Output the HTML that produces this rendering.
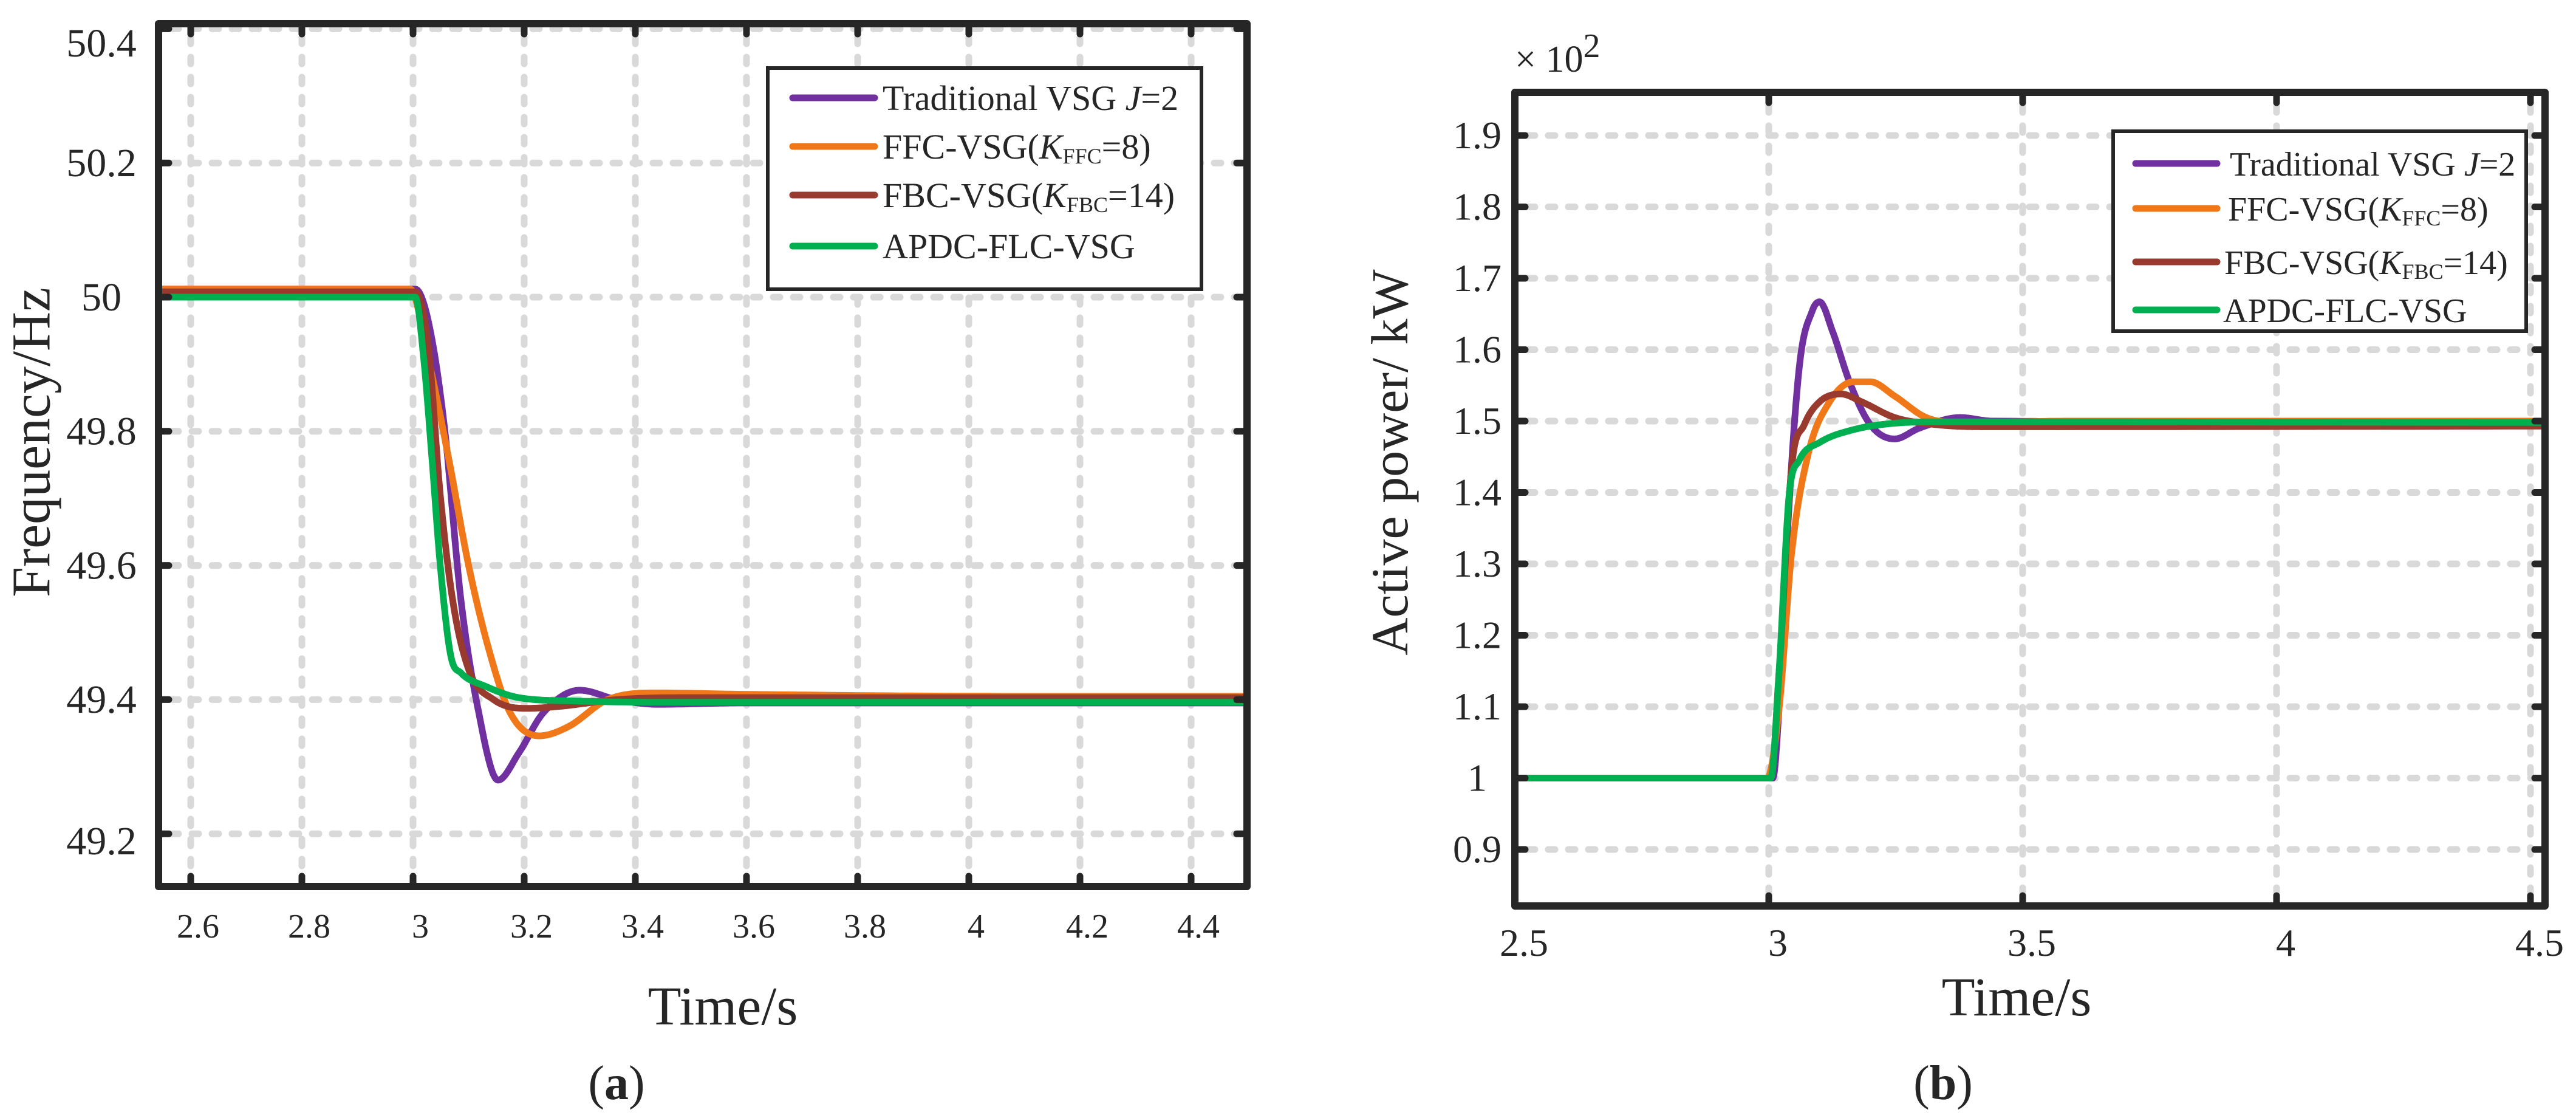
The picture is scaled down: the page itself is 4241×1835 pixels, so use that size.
<!DOCTYPE html>
<html><head><meta charset="utf-8"><style>
html,body{margin:0;padding:0;background:#fff}
svg{display:block}
text{font-family:"Liberation Serif","Times New Roman",serif;fill:#262626}
</style></head><body>
<svg id="fig" xmlns="http://www.w3.org/2000/svg" width="4241" height="1835" viewBox="0 0 4241 1835">
<defs>
<clipPath id="clipA"><rect x="261" y="39" width="1792" height="1420"/></clipPath>
<clipPath id="clipB"><rect x="2494" y="152" width="1696" height="1339"/></clipPath>
</defs>
<g id="panelA"></g>
<g id="panelB"></g>
</svg>
<script>
// ---------- Panel (a) data: Frequency (Hz) ----------
const aXTicks = [2.6, 2.8, 3, 3.2, 3.4, 3.6, 3.8, 4, 4.2, 4.4];
const aXTickLabels = ["2.6","2.8","3","3.2","3.4","3.6","3.8","4","4.2","4.4"];
const aYTicks = [49.2, 49.4, 49.6, 49.8, 50, 50.2, 50.4];
const aYTickLabels = ["49.2","49.4","49.6","49.8","50","50.2","50.4"];
const aPurpleT = [2.54, 3.0, 3.004, 3.027, 3.056, 3.086, 3.116, 3.153, 3.19, 3.234, 3.30, 3.367, 3.44, 3.59, 4.51];
const aPurpleV = [50.012, 50.012, 50.012, 49.966, 49.81, 49.55, 49.39, 49.28, 49.32, 49.38, 49.414, 49.40, 49.393, 49.395, 49.395];
const aOrangeT = [2.54, 2.995, 3.027, 3.064, 3.10, 3.138, 3.175, 3.227, 3.28, 3.35, 3.44, 3.59, 4.08, 4.51];
const aOrangeV = [50.012, 50.012, 49.91, 49.76, 49.60, 49.47, 49.38, 49.346, 49.36, 49.40, 49.41, 49.408, 49.405, 49.405];
const aBrownT = [2.54, 3.004, 3.027, 3.049, 3.071, 3.10, 3.145, 3.205, 3.264, 3.367, 3.5, 4.51];
const aBrownV = [50.008, 50.008, 49.93, 49.705, 49.55, 49.445, 49.40, 49.387, 49.39, 49.40, 49.403, 49.403];
const aGreenT = [2.54, 3.004, 3.019, 3.034, 3.049, 3.068, 3.086, 3.13, 3.19, 3.29, 3.5, 4.51];
const aGreenV = [50.0, 50.0, 49.91, 49.76, 49.60, 49.465, 49.44, 49.42, 49.403, 49.398, 49.396, 49.396];

// ---------- Panel (b) data: Active power (x100 kW) ----------
const bXTicks = [2.5, 3, 3.5, 4, 4.5];
const bXTickLabels = ["2.5","3","3.5","4","4.5"];
const bYTicks = [0.9, 1.0, 1.1, 1.2, 1.3, 1.4, 1.5, 1.6, 1.7, 1.8, 1.9];
const bYTickLabels = ["0.9","1","1.1","1.2","1.3","1.4","1.5","1.6","1.7","1.8","1.9"];
const bPurpleT = [2.49, 3.008, 3.02, 3.037, 3.06, 3.086, 3.10, 3.126, 3.159, 3.20, 3.248, 3.296, 3.377, 3.44, 4.55];
const bPurpleV = [1.0, 1.0, 1.095, 1.345, 1.575, 1.655, 1.667, 1.625, 1.555, 1.495, 1.475, 1.49, 1.505, 1.50, 1.498];
const bOrangeT = [2.49, 2.997, 3.02, 3.045, 3.078, 3.118, 3.167, 3.20, 3.248, 3.31, 3.377, 3.6, 4.55];
const bOrangeV = [1.0, 1.0, 1.095, 1.315, 1.455, 1.525, 1.555, 1.555, 1.535, 1.505, 1.498, 1.50, 1.50];
const bBrownT = [2.49, 3.004, 3.02, 3.045, 3.07, 3.10, 3.142, 3.183, 3.248, 3.33, 3.43, 4.55];
const bBrownV = [1.0, 1.0, 1.145, 1.435, 1.495, 1.527, 1.538, 1.527, 1.505, 1.495, 1.492, 1.493];
const bGreenT = [2.49, 3.004, 3.02, 3.04, 3.06, 3.10, 3.167, 3.248, 3.345, 4.55];
const bGreenV = [1.0, 1.0, 1.145, 1.395, 1.445, 1.47, 1.488, 1.497, 1.499, 1.498];

const NS = "http://www.w3.org/2000/svg";
function mk(tag, attrs, parent){
  const e = document.createElementNS(NS, tag);
  for (const k in attrs) e.setAttribute(k, attrs[k]);
  parent.appendChild(e);
  return e;
}
function monotoneSample(ts, vs){
  const n = ts.length, d = [], m = [];
  for (let i = 0; i < n-1; i++) d.push((vs[i+1]-vs[i])/(ts[i+1]-ts[i]));
  m.push(d[0]);
  for (let i = 1; i < n-1; i++) m.push(d[i-1]*d[i] <= 0 ? 0 : (d[i-1]+d[i])/2);
  m.push(d[n-2]);
  for (let i = 0; i < n-1; i++){
    if (d[i] === 0){ m[i] = 0; m[i+1] = 0; continue; }
    const a = m[i]/d[i], b = m[i+1]/d[i], s = a*a+b*b;
    if (s > 9){ const tt = 3/Math.sqrt(s); m[i] = tt*a*d[i]; m[i+1] = tt*b*d[i]; }
  }
  const out = [];
  for (let i = 0; i < n-1; i++){
    const h = ts[i+1]-ts[i], steps = 24;
    for (let k = 0; k < steps; k++){
      const u = k/steps, u2 = u*u, u3 = u2*u;
      const v = (2*u3-3*u2+1)*vs[i] + (u3-2*u2+u)*h*m[i] + (-2*u3+3*u2)*vs[i+1] + (u3-u2)*h*m[i+1];
      out.push([ts[i]+u*h, v]);
    }
  }
  out.push([ts[n-1], vs[n-1]]);
  return out;
}
const COLORS = {purple:"#7030a0", orange:"#f07819", brown:"#983a2e", green:"#00b050"};

function addLabel(parent, x, y, size, str){
  const lb = document.createElementNS(NS, "text");
  lb.setAttribute("x", x);
  lb.setAttribute("y", y);
  lb.setAttribute("font-size", size);
  lb.setAttribute("text-anchor", "middle");
  lb.setAttribute("font-family", "Liberation Serif, serif");
  lb.style.fontFamily = "'Liberation Serif', serif";
  lb.textContent = str;
  parent.appendChild(lb);
  return lb;
}

function buildPanel(cfg){
  const g = document.getElementById(cfg.id);
  const L = cfg.left, R = cfg.right, T = cfg.top, B = cfg.bottom;
  const grid = mk("g", {stroke:"#d9d9d9", "stroke-width":11, "stroke-dasharray":"11 22", "stroke-linecap":"round", fill:"none"}, g);
  
  
  cfg.xTicks.forEach(t => {
    const ln = mk("line", {x1:cfg.x(t), x2:cfg.x(t), y1:T+22, y2:B}, grid);
    
    
  });
  cfg.yTicks.forEach(v => {
    const ln = mk("line", {x1:L+22, x2:R, y1:cfg.y(v), y2:cfg.y(v)}, grid);
    
    
  });
  const sg = mk("g", {"clip-path":"url(#"+cfg.clip+")", fill:"none", "stroke-width":11, "stroke-linejoin":"round", "stroke-linecap":"round"}, g);
  
  
  cfg.series.forEach(s => {
    const pts = monotoneSample(s.t, s.v).map(p => cfg.x(p[0]).toFixed(1) + "," + cfg.y(p[1]).toFixed(1));
    const p = mk("polyline", {points:pts.join(" "), stroke:s.color}, sg);
    
    
  });
  const box = mk("rect", {x:L, y:T, width:R-L, height:B-T, fill:"none", stroke:"#262626", "stroke-width":12, "stroke-linejoin":"round"}, g);
  
  
  const tk = mk("g", {stroke:"#262626", "stroke-width":11, "stroke-linecap":"round"}, g);
  
  
  cfg.xTicks.forEach((t,i) => {
    const xx = cfg.x(t);
    mk("line", {x1:xx, x2:xx, y1:B, y2:B-17}, tk);
    mk("line", {x1:xx, x2:xx, y1:T, y2:T+17}, tk);
    const lb = addLabel(g, xx+cfg.xLabelDx, cfg.xLabelY, cfg.xFont, cfg.xLabels[i]);
    
    
  });
  cfg.yTicks.forEach((v,i) => {
    const yy = cfg.y(v);
    mk("line", {x1:L, x2:L+17, y1:yy, y2:yy}, tk);
    mk("line", {x1:R, x2:R-17, y1:yy, y2:yy}, tk);
    const lb = addLabel(g, cfg.yLabelX, yy+cfg.yFont*0.33 + (cfg.yLabelDy[i]||0), cfg.yFont, cfg.yLabels[i]);
    
    
  });
}

buildPanel({
  id:"panelA", clip:"clipA", left:261, right:2053, top:39, bottom:1459,
  x: t => 314 + (t-2.6)/0.2*183,
  y: v => 489 - (v-50)/0.2*220.8,
  xTicks:aXTicks, xLabels:aXTickLabels, yTicks:aYTicks, yLabels:aYTickLabels,
  xLabelDx:12, xLabelY:1543, xFont:56, yLabelX:167, yFont:66, yLabelDy:[12,0,0,0,0,0,24],
  series:[
    {name:"traditional-vsg-line", t:aPurpleT, v:aPurpleV, color:COLORS.purple},
    {name:"ffc-vsg-line", t:aOrangeT, v:aOrangeV, color:COLORS.orange},
    {name:"fbc-vsg-line", t:aBrownT, v:aBrownV, color:COLORS.brown},
    {name:"apdc-flc-vsg-line", t:aGreenT, v:aGreenV, color:COLORS.green}
  ]
});
buildPanel({
  id:"panelB", clip:"clipB", left:2494, right:4190, top:152, bottom:1491,
  x: t => 2494 + (t-2.5)/0.5*418,
  y: v => 1280.5 - (v-1)/0.1*117.5,
  xTicks:bXTicks, xLabels:bXTickLabels, yTicks:bYTicks, yLabels:bYTickLabels,
  xLabelDx:15, xLabelY:1573, xFont:64, yLabelX:2432, yFont:64, yLabelDy:[],
  series:[
    {name:"traditional-vsg-line", t:bPurpleT, v:bPurpleV, color:COLORS.purple},
    {name:"ffc-vsg-line", t:bOrangeT, v:bOrangeV, color:COLORS.orange},
    {name:"fbc-vsg-line", t:bBrownT, v:bBrownV, color:COLORS.brown},
    {name:"apdc-flc-vsg-line", t:bGreenT, v:bGreenV, color:COLORS.green}
  ]
});
</script>
<svg xmlns="http://www.w3.org/2000/svg" width="4241" height="1835" viewBox="0 0 4241 1835" style="position:absolute;left:0;top:0">
  <text x="52" y="728" font-size="90" text-anchor="middle" transform="rotate(-90 52 728)" dominant-baseline="central">Frequency/Hz</text>
  <text x="1190" y="1686" font-size="90" text-anchor="middle">Time/s</text>
  <text x="1015" y="1809" font-size="80" text-anchor="middle">(<tspan font-weight="bold">a</tspan>)</text>
  <g>
    <rect x="1264" y="112" width="714" height="364" fill="#fff" stroke="#262626" stroke-width="6"/>
    <line x1="1305" x2="1440" y1="161" y2="161" stroke="#7030a0" stroke-width="11" stroke-linecap="round"/>
    <text x="1453" y="181" font-size="58">Traditional VSG <tspan font-style="italic">J</tspan>=2</text>
    <line x1="1305" x2="1440" y1="241" y2="241" stroke="#f07819" stroke-width="11" stroke-linecap="round"/>
    <text x="1453" y="261" font-size="58">FFC-VSG(<tspan font-style="italic">K</tspan><tspan font-size="36" dy="8">FFC</tspan><tspan dy="-8">=8)</tspan></text>
    <line x1="1305" x2="1440" y1="321" y2="321" stroke="#983a2e" stroke-width="11" stroke-linecap="round"/>
    <text x="1453" y="341" font-size="58">FBC-VSG(<tspan font-style="italic">K</tspan><tspan font-size="36" dy="8">FBC</tspan><tspan dy="-8">=14)</tspan></text>
    <line x1="1305" x2="1440" y1="405" y2="405" stroke="#00b050" stroke-width="11" stroke-linecap="round"/>
    <text x="1453" y="425" font-size="58">APDC-FLC-VSG</text>
  </g>
  <text x="2288" y="761" font-size="86" text-anchor="middle" transform="rotate(-90 2288 761)" dominant-baseline="central">Active power/ kW</text>
  <text x="3320" y="1671" font-size="90" text-anchor="middle">Time/s</text>
  <text x="3199" y="1809" font-size="80" text-anchor="middle">(<tspan font-weight="bold">b</tspan>)</text>
  <text x="2494" y="118" font-size="62">× 10<tspan font-size="56" dy="-24">2</tspan></text>
  <g>
    <rect x="3479" y="216" width="680" height="329" fill="#fff" stroke="#262626" stroke-width="6"/>
    <line x1="3516" x2="3650" y1="269" y2="269" stroke="#7030a0" stroke-width="11" stroke-linecap="round"/>
    <text x="3671" y="289" font-size="56">Traditional VSG <tspan font-style="italic">J</tspan>=2</text>
    <line x1="3516" x2="3650" y1="343" y2="343" stroke="#f07819" stroke-width="11" stroke-linecap="round"/>
    <text x="3668" y="363" font-size="56">FFC-VSG(<tspan font-style="italic">K</tspan><tspan font-size="36" dy="8">FFC</tspan><tspan dy="-8">=8)</tspan></text>
    <line x1="3516" x2="3650" y1="431" y2="431" stroke="#983a2e" stroke-width="11" stroke-linecap="round"/>
    <text x="3662" y="451" font-size="56">FBC-VSG(<tspan font-style="italic">K</tspan><tspan font-size="36" dy="8">FBC</tspan><tspan dy="-8">=14)</tspan></text>
    <line x1="3516" x2="3650" y1="510" y2="510" stroke="#00b050" stroke-width="11" stroke-linecap="round"/>
    <text x="3660" y="530" font-size="56">APDC-FLC-VSG</text>
  </g>
</svg>
</body></html>
